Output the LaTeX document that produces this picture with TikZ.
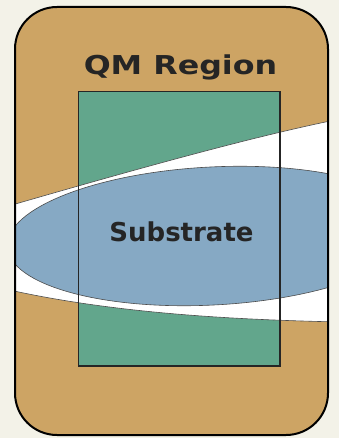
\documentclass[tikz,border=0pt]{standalone}
\usepackage{fontspec}
\setmainfont{DejaVu Sans}
\definecolor{paper}{HTML}{F3F2E8}
\definecolor{tan}{HTML}{CDA464}
\definecolor{qmgreen}{HTML}{62A68C}
\definecolor{subblue}{HTML}{86A9C4}
\definecolor{ink}{HTML}{252525}
\tikzset{
  frame/.style={draw=black, line width=2pt, rounded corners=42pt},
  qmbox/.style={draw=ink, line width=1.5pt},
  edge/.style={draw=black!70, line width=0.6pt},
  label/.style={font=\bfseries\fontsize{26}{30}\selectfont, text=ink, anchor=base, inner sep=0pt}
}
\begin{document}
\begin{tikzpicture}[x=1pt, y=-1pt]
  % page background
  \fill[paper] (0,0) rectangle (339,438);
  \useasboundingbox (0,0) rectangle (339,438);
  % outer region
  \fill[tan, rounded corners=42pt] (15,7) rectangle (328,435);
  \begin{scope}
    \clip[rounded corners=42pt] (15,7) rectangle (328,435);
    % QM region box (fill)
    \fill[qmgreen] (78.5,91.5) rectangle (280,366);
    % white solvent band
    \path[fill=white, edge] (5,207) .. controls (150,165) and (260,135) .. (340,119)
      -- (340,322) .. controls (250,320) and (120,315) .. (5,289) -- cycle;
    % substrate
    \path[fill=subblue, edge, rotate around={3:(212,236)}] (212,236) ellipse [x radius=205, y radius=69];
  \end{scope}
  \draw[qmbox] (78.5,91.5) rectangle (280,366);
  \draw[frame] (15,7) rectangle (328,435);
  \node[label, xscale=1.22] (qm) at (180.5,74.3) {QM Region};
  \node[label] (sub) at (181.5,241.7) {Substrate};
\end{tikzpicture}
\end{document}
